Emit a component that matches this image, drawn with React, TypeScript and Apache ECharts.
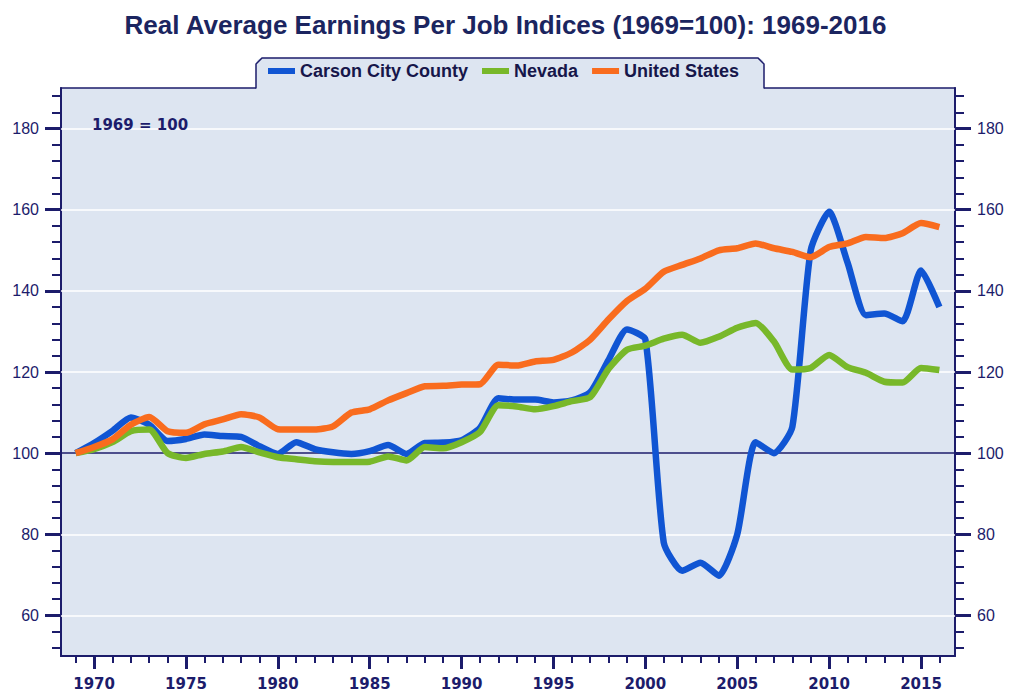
import React, { useEffect, useRef } from "react";
import * as echarts from "echarts";

const years = [
  1969, 1970, 1971, 1972, 1973, 1974, 1975, 1976, 1977, 1978, 1979, 1980,
  1981, 1982, 1983, 1984, 1985, 1986, 1987, 1988, 1989, 1990, 1991, 1992,
  1993, 1994, 1995, 1996, 1997, 1998, 1999, 2000, 2001, 2002, 2003, 2004,
  2005, 2006, 2007, 2008, 2009, 2010, 2011, 2012, 2013, 2014, 2015, 2016,
];

const carson = [
  100, 102.5, 105.5, 108.8, 107, 103, 103.5, 104.6, 104.2, 104, 101.7, 99.8,
  102.7, 101, 100.2, 99.8, 100.5, 102, 99.8, 102.5, 102.6, 103.2, 106.2, 113.5,
  113.2, 113.2, 112.5, 113, 115, 123, 130.5, 128, 78, 71, 73, 69.8,
  80, 102.7, 100, 106.5, 150, 159.5, 147, 134, 134.4, 132.5, 145, 136,
];

const nevada = [
  100, 101, 102.7, 105.4, 105.8, 100, 98.8, 99.8, 100.4, 101.5, 100.2, 99,
  98.5, 98, 97.8, 97.8, 97.9, 99.2, 98.2, 101.5, 101.2, 102.7, 105.2, 111.8,
  111.5, 110.8, 111.6, 112.8, 113.8, 120.8, 125.5, 126.5, 128.2, 129.2, 127.2, 128.7,
  130.9, 132.1, 127.5, 120.6, 121, 124.2, 121.2, 119.8, 117.6, 117.4, 121, 120.5,
];

const unitedStates = [
  100, 101.5, 103.4, 107, 108.9, 105.4, 105, 107.1, 108.3, 109.6, 108.8, 105.9,
  105.8, 105.8, 106.6, 110, 110.8, 113, 114.8, 116.5, 116.6, 116.9, 117, 121.8,
  121.6, 122.6, 123, 124.8, 128, 133, 137.5, 140.5, 144.7, 146.4, 148, 150,
  150.5, 151.7, 150.5, 149.6, 148.3, 150.8, 151.7, 153.3, 153, 154.2, 156.7, 155.7,
];

const seriesNames = ["Carson City County", "Nevada", "United States"];
const seriesColors = ["#1055d3", "#78b82a", "#f96c1e"];

const yMajorTicks = [60, 80, 100, 120, 140, 160, 180];
const yMinorTicks = [
  52, 56, 60, 64, 68, 72, 76, 80, 84, 88, 92, 96, 100, 104, 108, 112, 116, 120,
  124, 128, 132, 136, 140, 144, 148, 152, 156, 160, 164, 168, 172, 176, 180, 184, 188,
];
const xMajorTicks = [1970, 1975, 1980, 1985, 1990, 1995, 2000, 2005, 2010, 2015];
const xMinorTicks = years;
const whiteGridLines = [60, 80, 120, 140, 160, 180];
const baseLine = 100;

const NAVY = "#1c1c6b";
const PLOT_BG = "#dde5f1";

export default function App() {
  const ref = useRef<HTMLDivElement>(null);

  useEffect(() => {
    if (!ref.current) return;
    const chart = echarts.init(ref.current, null, { renderer: "svg" });

    const yCommon = {
      type: "value",
      min: 50,
      max: 190,
      splitLine: { show: false },
    };
    const xCommon = {
      type: "value",
      min: 1968.2,
      max: 2016.85,
      position: "bottom",
      splitLine: { show: false },
    };

    const majorY = (pos: string) => ({
      ...yCommon,
      position: pos,
      axisLine: { show: true, lineStyle: { color: NAVY, width: 2 } },
      axisTick: {
        show: true,
        customValues: yMajorTicks,
        length: 16,
        lineStyle: { color: NAVY, width: 3 },
      },
      axisLabel: {
        show: true,
        customValues: yMajorTicks,
        margin: 22,
        fontSize: 16,
        color: NAVY,
        fontFamily: "Liberation Sans",
      },
    });
    const minorY = (pos: string) => ({
      ...yCommon,
      position: pos,
      axisLine: { show: false },
      axisTick: {
        show: true,
        customValues: yMinorTicks,
        length: 9,
        lineStyle: { color: NAVY, width: 2 },
      },
      axisLabel: { show: false },
    });

    const lineSeries = seriesNames.map((name, i) => {
      const vals = [carson, nevada, unitedStates][i];
      return {
        name,
        type: "line",
        xAxisIndex: 0,
        yAxisIndex: 0,
        data: years.map((y, k) => [y, vals[k]]),
        showSymbol: false,
        symbol: "none",
        smooth: 0.2,
        z: 2 + i,
        lineStyle: { color: seriesColors[i], width: 6.5 },
        itemStyle: { color: seriesColors[i] },
      };
    });

    chart.setOption({
      animation: false,
      backgroundColor: "#ffffff",
      title: {
        text: "Real Average Earnings Per Job Indices (1969=100): 1969-2016",
        left: "center",
        top: 7,
        textStyle: {
          fontFamily: "Liberation Sans",
          fontWeight: "bold",
          fontSize: 26,
          color: "#1b2560",
        },
      },
      legend: {
        data: seriesNames,
        left: 268,
        top: 62,
        padding: 0,
        itemWidth: 27,
        itemHeight: 6,
        itemGap: 14,
        icon: "rect",
        z: 20,
        textStyle: {
          fontFamily: "Liberation Sans",
          fontWeight: "bold",
          fontSize: 18,
          color: "#16164a",
        },
      },
      grid: {
        left: 61,
        right: 56,
        top: 88,
        bottom: 42,
        show: true,
        backgroundColor: PLOT_BG,
        borderColor: NAVY,
        borderWidth: 1.5,
      },
      xAxis: [
        {
          ...xCommon,
          axisLine: { show: true, lineStyle: { color: NAVY, width: 2 } },
          axisTick: {
            show: true,
            customValues: xMajorTicks,
            length: 13,
            lineStyle: { color: NAVY, width: 3 },
          },
          axisLabel: {
            show: true,
            customValues: xMajorTicks,
            formatter: (v: number) => String(v),
            margin: 20,
            fontSize: 15,
            fontWeight: "bold",
            color: NAVY,
            fontFamily: "DejaVu Sans",
          },
        },
        {
          ...xCommon,
          axisLine: { show: false },
          axisTick: {
            show: true,
            customValues: xMinorTicks,
            length: 7,
            lineStyle: { color: NAVY, width: 2 },
          },
          axisLabel: { show: false },
        },
      ],
      yAxis: [majorY("left"), minorY("left"), majorY("right"), minorY("right")],
      graphic: [
        {
          type: "rect",
          z: 3,
          shape: { x: 256, y: 58, width: 508, height: 32, r: [6, 6, 0, 0] },
          style: { fill: PLOT_BG },
          silent: true,
        },
        {
          type: "polyline",
          z: 3,
          shape: {
            points: [
              [256, 88.5],
              [256, 64],
              [262, 58],
              [758, 58],
              [764, 64],
              [764, 88.5],
            ],
          },
          style: { stroke: NAVY, lineWidth: 1.5, fill: "none" },
          silent: true,
        },
        {
          type: "text",
          z: 5,
          x: 92,
          y: 125,
          style: {
            text: "1969 = 100",
            fill: NAVY,
            font: "bold 15px 'DejaVu Sans'",
            verticalAlign: "middle",
          },
          silent: true,
        },
      ],
      series: [
        {
          name: "gridlines",
          type: "line",
          xAxisIndex: 0,
          yAxisIndex: 0,
          data: [],
          z: 1,
          silent: true,
          markLine: {
            silent: true,
            z: 1,
            symbol: ["none", "none"],
            label: { show: false },
            data: [
              ...whiteGridLines.map((v) => ({
                yAxis: v,
                lineStyle: { color: "#ffffff", width: 1.5, type: "solid" },
              })),
              {
                yAxis: baseLine,
                lineStyle: { color: NAVY, width: 1.5, type: "solid" },
              },
            ],
          },
        },
        ...lineSeries,
      ],
    });

    return () => chart.dispose();
  }, []);

  return (
    <div
      ref={ref}
      style={{ position: "fixed", left: 0, top: 0, width: 1011, height: 698 }}
    />
  );
}
